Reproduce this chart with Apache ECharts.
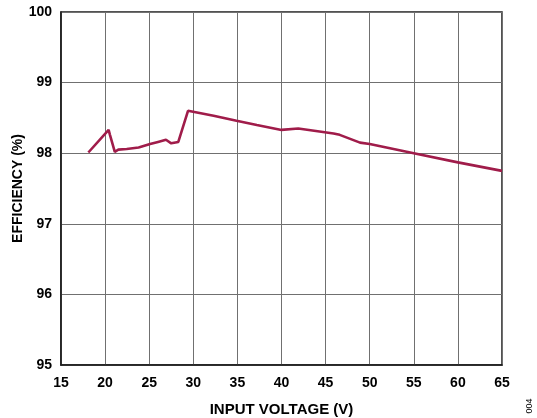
<!DOCTYPE html>
<html><head><meta charset="utf-8">
<script src="https://cdn.jsdelivr.net/npm/echarts@6/dist/echarts.min.js"></script>
<style>html,body{margin:0;padding:0;background:#fff}#c{width:537px;height:418px}</style>
</head><body><div id="c"></div>
<script>
const inputVoltage = [18.1, 20.4, 20.55, 21.1, 21.5, 22.45, 23.8, 25.1, 26.0, 26.9, 27.5, 28.3, 29.4, 32.3, 34.9, 37.2, 40.0, 41.9, 45.9, 46.6, 48.9, 50.0, 55.0, 60.0, 65.0];
const efficiency = [98.01, 98.33, 98.26, 98.02, 98.05, 98.06, 98.08, 98.13, 98.16, 98.19, 98.14, 98.16, 98.60, 98.53, 98.46, 98.40, 98.33, 98.35, 98.28, 98.26, 98.15, 98.13, 98.00, 97.87, 97.75];
const xTicks = {min: 15, max: 65, interval: 5};
const yTicks = {min: 95, max: 100, interval: 1};

const chart = echarts.init(document.getElementById('c'));
const font = 'Liberation Sans, Arial, sans-serif';
chart.setOption({
  animation: false,
  grid: {left: 61, right: 35, top: 12, bottom: 53, outerBoundsMode: 'none', containLabel: false, show: true, borderColor: '#1a1a1a', borderWidth: 1.5, backgroundColor: '#fff'},
  xAxis: {
    type: 'value', min: xTicks.min, max: xTicks.max, interval: xTicks.interval,
    name: 'INPUT VOLTAGE (V)', nameLocation: 'middle', nameGap: 37, nameMoveOverlap: false,
    nameTextStyle: {fontFamily: font, fontWeight: 'bold', fontSize: 15, color: '#000'},
    axisLine: {show: true, lineStyle: {color: '#1a1a1a', width: 1.5}},
    axisTick: {show: false},
    axisLabel: {fontFamily: font, fontWeight: 'bold', fontSize: 14, color: '#000', margin: 11},
    splitLine: {show: true, lineStyle: {color: '#707070', width: 1}}
  },
  yAxis: {
    type: 'value', min: yTicks.min, max: yTicks.max, interval: yTicks.interval,
    name: 'EFFICIENCY (%)', nameLocation: 'middle', nameGap: 36, nameMoveOverlap: false,
    nameTextStyle: {fontFamily: font, fontWeight: 'bold', fontSize: 14, color: '#000'},
    axisLine: {show: true, lineStyle: {color: '#1a1a1a', width: 1.5}},
    axisTick: {show: false},
    axisLabel: {fontFamily: font, fontWeight: 'bold', fontSize: 14, color: '#000', margin: 9},
    splitLine: {show: true, lineStyle: {color: '#707070', width: 1}}
  },
  series: [{
    type: 'line',
    data: inputVoltage.map((v, i) => [v, efficiency[i]]),
    showSymbol: false,
    lineStyle: {color: '#a01c4a', width: 2.6},
    z: 5
  }],
  graphic: [{
    type: 'text', x: 529.5, y: 406, rotation: Math.PI / 2,
    style: {text: '004', fontFamily: font, fontSize: 9, fill: '#000', align: 'center', verticalAlign: 'middle'}
  }]
});
</script></body></html>
